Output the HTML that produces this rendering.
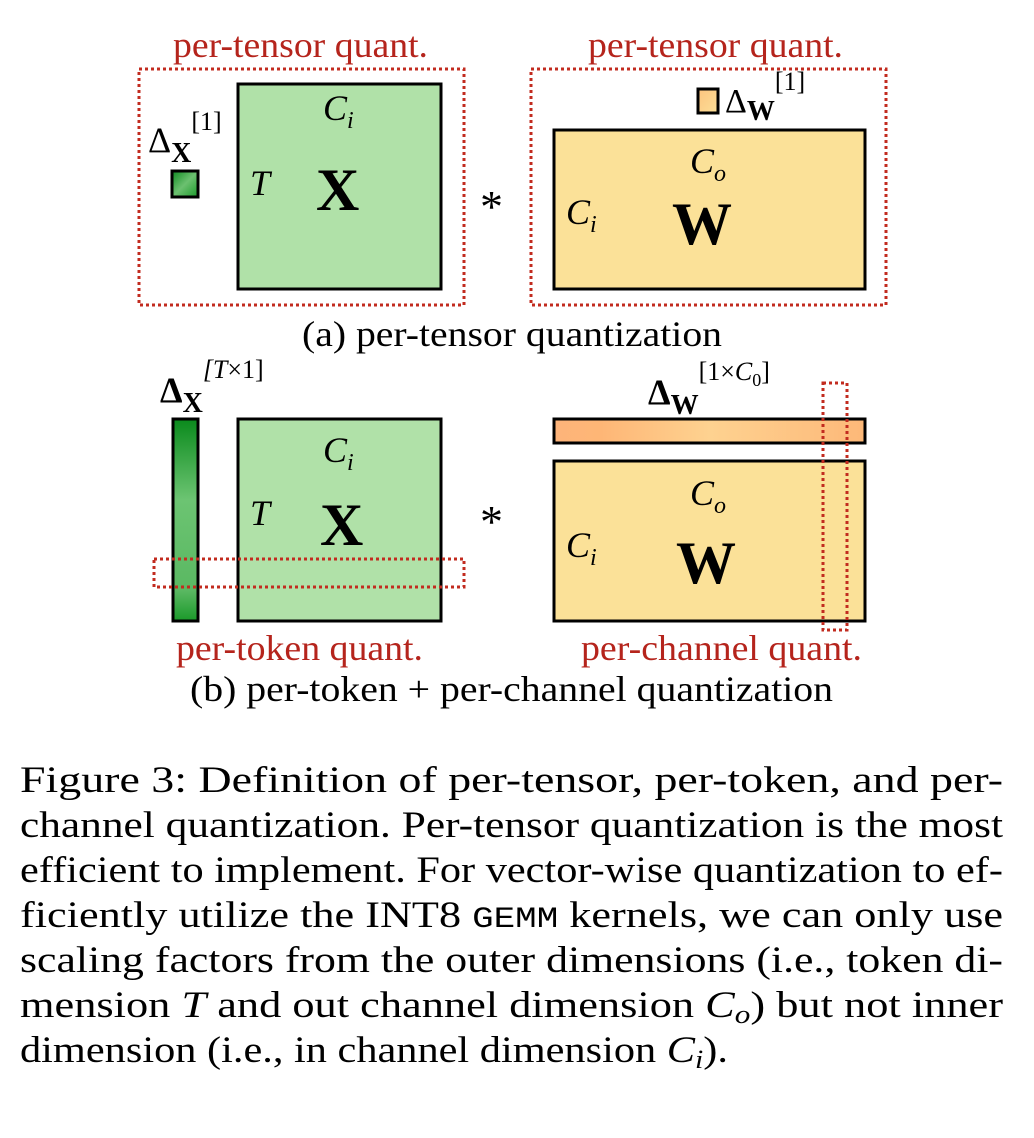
<!DOCTYPE html>
<html><head><meta charset="utf-8"><style>html,body{margin:0;padding:0;background:#fff}svg{display:block}</style></head>
<body>
<svg width="1034" height="1138" viewBox="0 0 1034 1138" xmlns="http://www.w3.org/2000/svg" font-family="'Liberation Serif', serif">
<defs>
<linearGradient id="gs" x1="0" y1="0" x2="1" y2="1"><stop offset="0" stop-color="#0e8a20"/><stop offset="0.5" stop-color="#6cc070"/><stop offset="1" stop-color="#1a9a2a"/></linearGradient>
<linearGradient id="gb" x1="0" y1="0" x2="0" y2="1"><stop offset="0" stop-color="#0a8a1c"/><stop offset="0.4" stop-color="#6cc472"/><stop offset="0.85" stop-color="#5ab862"/><stop offset="1" stop-color="#1a9a2a"/></linearGradient>
<linearGradient id="os" x1="0" y1="0" x2="1" y2="1"><stop offset="0" stop-color="#fdc47e"/><stop offset="1" stop-color="#fbdf98"/></linearGradient>
<linearGradient id="ob" x1="0" y1="0" x2="1" y2="0"><stop offset="0" stop-color="#fdb47a"/><stop offset="0.15" stop-color="#feb676"/><stop offset="0.5" stop-color="#fed290"/><stop offset="0.85" stop-color="#fdc080"/><stop offset="1" stop-color="#fdb878"/></linearGradient>
</defs>
<g fill="#b5241c" font-size="36">
<text x="173" y="57" textLength="255" lengthAdjust="spacingAndGlyphs">per-tensor quant.</text>
<text x="588" y="57" textLength="255" lengthAdjust="spacingAndGlyphs">per-tensor quant.</text>
<text x="176" y="660" textLength="247" lengthAdjust="spacingAndGlyphs">per-token quant.</text>
<text x="581" y="660" textLength="281" lengthAdjust="spacingAndGlyphs">per-channel quant.</text>
</g>
<!-- top -->
<rect x="238" y="84" width="203" height="205" fill="#b0e1a8" stroke="#000" stroke-width="3"/>
<rect x="172" y="171" width="26" height="26" fill="url(#gs)" stroke="#000" stroke-width="3"/>
<rect x="554" y="130" width="311" height="159" fill="#fbe198" stroke="#000" stroke-width="3"/>
<rect x="698" y="89" width="20" height="24" fill="url(#os)" stroke="#000" stroke-width="3"/>
<g fill="#000">
<text x="148" y="152" font-size="36">Δ<tspan font-weight="bold" font-size="28" dy="10">X</tspan><tspan font-size="26" dy="-32">[1]</tspan></text>
<text x="725" y="112" font-size="34">Δ<tspan font-weight="bold" font-size="28" dy="8">W</tspan><tspan font-size="26" dy="-30">[1]</tspan></text>
<text x="323" y="120" font-size="36" font-style="italic">C<tspan font-size="24" dy="8">i</tspan></text>
<text x="250" y="195" font-size="36" font-style="italic">T</text>
<text x="316" y="210" font-size="60" font-weight="bold">X</text>
<text x="690" y="173" font-size="36" font-style="italic">C<tspan font-size="24" dy="8">o</tspan></text>
<text x="566" y="224" font-size="36" font-style="italic">C<tspan font-size="24" dy="8">i</tspan></text>
<text x="672" y="244" font-size="60" font-weight="bold">W</text>
<text x="480" y="222" font-size="46">*</text>
<text x="302" y="346" font-size="36" textLength="420" lengthAdjust="spacingAndGlyphs">(a) per-tensor quantization</text>
</g>
<!-- bottom -->
<rect x="238" y="419" width="203" height="202" fill="#b0e1a8" stroke="#000" stroke-width="3"/>
<rect x="173" y="419" width="25" height="202" fill="url(#gb)" stroke="#000" stroke-width="3"/>
<rect x="554" y="461" width="311" height="160" fill="#fbe198" stroke="#000" stroke-width="3"/>
<rect x="554" y="419" width="311" height="24" fill="url(#ob)" stroke="#000" stroke-width="3"/>
<g fill="#000">
<text x="160" y="402" font-size="36" font-weight="bold">Δ<tspan font-size="28" dy="10">X</tspan><tspan font-size="26" font-weight="normal" dy="-34"><tspan font-style="italic">[T</tspan>×1]</tspan></text>
<text x="648" y="404" font-size="36" font-weight="bold">Δ<tspan font-size="28" dy="10">W</tspan><tspan font-size="26" font-weight="normal" dy="-34">[1×<tspan font-style="italic">C</tspan><tspan font-size="18" dy="6">0</tspan><tspan dy="-6">]</tspan></tspan></text>
<text x="323" y="462" font-size="36" font-style="italic">C<tspan font-size="24" dy="8">i</tspan></text>
<text x="250" y="525" font-size="36" font-style="italic">T</text>
<text x="320" y="545" font-size="60" font-weight="bold">X</text>
<text x="690" y="505" font-size="36" font-style="italic">C<tspan font-size="24" dy="8">o</tspan></text>
<text x="566" y="557" font-size="36" font-style="italic">C<tspan font-size="24" dy="8">i</tspan></text>
<text x="676" y="583" font-size="60" font-weight="bold">W</text>
<text x="480" y="537" font-size="46">*</text>
<text x="190" y="701" font-size="36" textLength="643" lengthAdjust="spacingAndGlyphs">(b) per-token + per-channel quantization</text>
</g>
<g fill="none" stroke="#c22b1f" stroke-width="3" stroke-dasharray="3 3">
<rect x="139" y="69" width="325" height="236"/>
<rect x="531" y="69" width="355" height="236"/>
<rect x="154" y="559" width="310" height="28"/>
<rect x="823" y="383" width="24" height="247"/>
</g>
<!-- caption -->
<g fill="#000" font-size="37">
<text x="20" y="792" textLength="983" lengthAdjust="spacingAndGlyphs">Figure 3:  Definition of per-tensor, per-token, and per-</text>
<text x="20" y="837" textLength="983" lengthAdjust="spacingAndGlyphs">channel quantization. Per-tensor quantization is the most</text>
<text x="20" y="882" textLength="983" lengthAdjust="spacingAndGlyphs">efficient to implement. For vector-wise quantization to ef-</text>
<text x="20" y="927" textLength="983" lengthAdjust="spacingAndGlyphs">ficiently utilize the INT8 <tspan font-family="'Liberation Mono', monospace" font-size="30">GEMM</tspan> kernels, we can only use</text>
<text x="20" y="972" textLength="983" lengthAdjust="spacingAndGlyphs">scaling factors from the outer dimensions (i.e., token di-</text>
<text x="20" y="1017" textLength="983" lengthAdjust="spacingAndGlyphs">mension <tspan font-style="italic">T</tspan> and out channel dimension <tspan font-style="italic">C</tspan><tspan font-style="italic" font-size="26" dy="6">o</tspan><tspan dy="-6">) but not inner</tspan></text>
<text x="20" y="1062" textLength="708" lengthAdjust="spacingAndGlyphs">dimension (i.e., in channel dimension <tspan font-style="italic">C</tspan><tspan font-style="italic" font-size="26" dy="6">i</tspan><tspan dy="-6">).</tspan></text>
</g>
</svg>
</body></html>
